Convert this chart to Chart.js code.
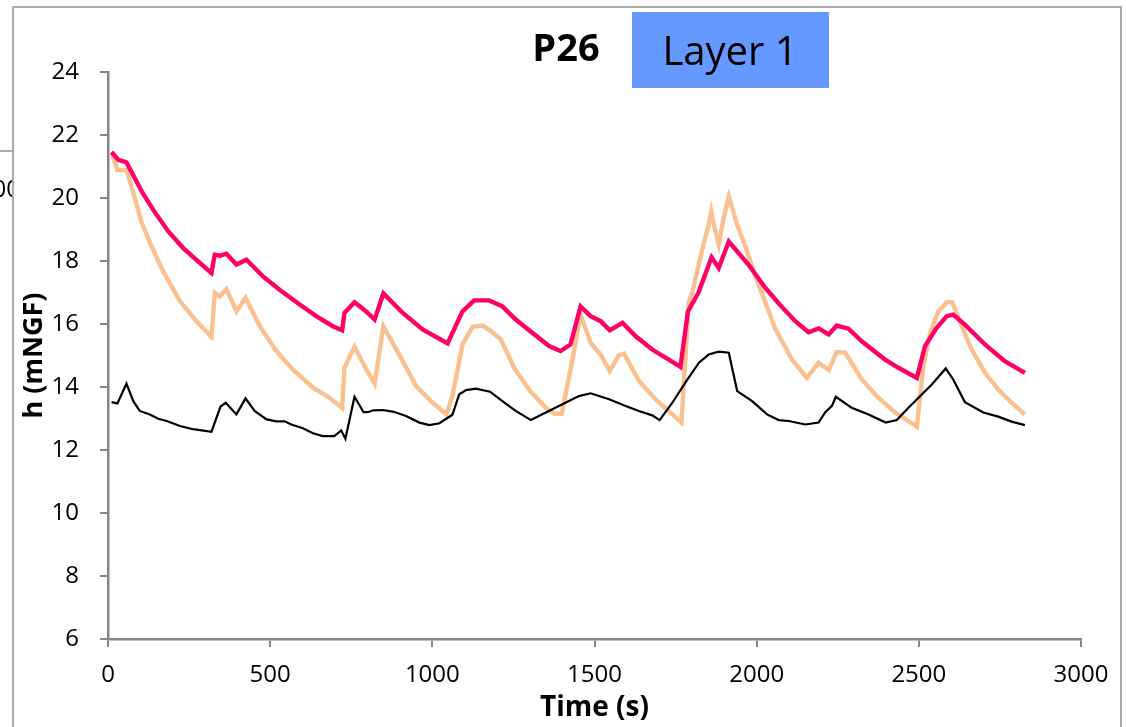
<!DOCTYPE html>
<html>
<head>
<meta charset="utf-8">
<script src="https://cdn.jsdelivr.net/npm/chart.js@4.4.1/dist/chart.umd.min.js"></script>
<style>
  html, body { margin: 0; padding: 0; background: #ffffff; }
  #wrap { position: relative; width: 1126px; height: 727px; }
  canvas { display: block; }
</style>
</head>
<body>
<div id="wrap"><canvas id="c" width="1126" height="727"></canvas></div>
<script>
// ---- data ----
const chartTitle = "P26";
const layerLabel = "Layer 1";
const xTitle = "Time (s)";
const yTitle = "h (mNGF)";
const xTicks = [0, 500, 1000, 1500, 2000, 2500, 3000];
const yTicks = [6, 8, 10, 12, 14, 16, 18, 20, 22, 24];

// magenta series
const tMagenta = [11,32,57,104,139,186,232,283,319,329,345,365,396,427,478,529,591,642,693,722,729,760,796,822,849,909,970,1047,1093,1129,1175,1216,1257,1308,1360,1395,1426,1457,1488,1519,1547,1586,1627,1678,1729,1765,1788,1820,1861,1883,1914,1975,2025,2068,2119,2160,2191,2222,2247,2283,2324,2396,2437,2494,2519,2555,2586,2606,2642,2704,2765,2827];
const hMagenta = [21.46,21.21,21.13,20.21,19.63,18.94,18.41,17.94,17.62,18.2,18.17,18.23,17.89,18.04,17.51,17.09,16.62,16.25,15.93,15.80,16.35,16.69,16.40,16.14,16.97,16.35,15.83,15.38,16.40,16.75,16.75,16.56,16.14,15.72,15.30,15.14,15.35,16.56,16.25,16.09,15.80,16.04,15.61,15.19,14.87,14.64,16.40,16.98,18.12,17.78,18.62,17.88,17.17,16.65,16.09,15.74,15.86,15.67,15.95,15.85,15.45,14.87,14.61,14.29,15.30,15.88,16.25,16.30,15.98,15.35,14.82,14.45];

// light orange series
const tOrange = [11,29,57,78,104,134,170,222,273,319,329,345,365,396,424,468,519,570,632,683,722,729,760,791,822,849,898,950,1001,1043,1062,1093,1124,1155,1181,1211,1252,1298,1350,1375,1399,1432,1457,1488,1519,1547,1575,1591,1637,1688,1740,1768,1791,1801,1832,1852,1860,1868,1883,1898,1914,1940,1965,1996,2016,2058,2109,2155,2191,2222,2247,2273,2324,2375,2427,2494,2514,2535,2560,2586,2603,2632,2663,2704,2745,2786,2827];
const hOrange = [21.42,20.89,20.89,20.16,19.21,18.47,17.67,16.72,16.09,15.59,16.99,16.88,17.11,16.40,16.83,15.93,15.14,14.56,13.98,13.66,13.34,14.61,15.28,14.66,14.11,15.93,15.03,14.03,13.50,13.13,13.71,15.35,15.91,15.95,15.77,15.51,14.61,13.92,13.34,13.16,13.15,14.87,16.30,15.40,15.03,14.50,15.01,15.06,14.19,13.61,13.13,12.87,16.72,16.98,18.36,19.15,19.57,19.15,18.52,19.36,20.05,19.15,18.47,17.51,16.98,15.83,14.87,14.29,14.77,14.54,15.11,15.09,14.24,13.66,13.19,12.74,14.66,15.72,16.40,16.69,16.69,15.93,15.19,14.45,13.92,13.50,13.13];

// black series
const tBlack = [11,29,57,78,98,129,155,181,222,262,319,347,363,396,424,452,489,519,545,565,601,632,662,698,719,732,760,788,801,818,847,878,919,960,991,1022,1062,1083,1104,1134,1178,1216,1257,1304,1350,1401,1452,1488,1545,1596,1637,1678,1701,1740,1780,1822,1852,1883,1914,1940,1986,2032,2068,2099,2150,2191,2211,2232,2244,2293,2345,2398,2432,2468,2499,2540,2583,2606,2642,2699,2745,2786,2827];
const hBlack = [13.52,13.48,14.11,13.55,13.24,13.13,12.99,12.92,12.76,12.66,12.58,13.38,13.50,13.13,13.64,13.24,12.97,12.91,12.91,12.81,12.69,12.53,12.44,12.44,12.62,12.36,13.69,13.20,13.20,13.26,13.27,13.22,13.08,12.87,12.79,12.85,13.12,13.77,13.90,13.95,13.85,13.55,13.24,12.95,13.19,13.45,13.71,13.80,13.61,13.40,13.24,13.10,12.95,13.50,14.14,14.77,15.03,15.12,15.09,13.87,13.55,13.13,12.95,12.92,12.81,12.87,13.19,13.40,13.69,13.34,13.13,12.87,12.95,13.34,13.66,14.08,14.59,14.24,13.52,13.19,13.06,12.90,12.79];

// ---- build ----
function pts(t, h) { return t.map((x, i) => ({ x: x, y: h[i] })); }

const AXIS_GRAY = '#868686';
const FRAME_GRAY = '#ababab';

const decorPlugin = {
  id: 'decor',
  beforeDraw(chart) {
    const ctx = chart.ctx;
    ctx.save();
    ctx.fillStyle = '#ffffff';
    ctx.fillRect(0, 0, chart.width, chart.height);
    // outer frame of the slide / chart object
    ctx.strokeStyle = FRAME_GRAY;
    ctx.lineWidth = 2;
    ctx.beginPath();
    ctx.moveTo(13, 727);
    ctx.lineTo(13, 7);
    ctx.lineTo(1121, 7);
    ctx.lineTo(1121, 727);
    ctx.stroke();
    // fragment of a neighbouring object on the left
    ctx.beginPath();
    ctx.moveTo(0, 151);
    ctx.lineTo(13, 151);
    ctx.stroke();
    ctx.beginPath();
    ctx.rect(0, 170, 12, 40);
    ctx.clip();
    ctx.fillStyle = '#000';
    ctx.font = '24px "Open Sans"';
    ctx.textBaseline = 'middle';
    ctx.textAlign = 'right';
    ctx.fillText('00', 20, 190);
    ctx.restore();
  },
  afterDraw(chart) {
    const ctx = chart.ctx;
    ctx.save();
    // title
    ctx.fillStyle = '#000';
    ctx.font = 'bold 38px "Open Sans"';
    ctx.textAlign = 'center';
    ctx.textBaseline = 'alphabetic';
    ctx.fillText(chartTitle, 566, 61);
    // layer label box
    ctx.fillStyle = '#6699ff';
    ctx.fillRect(632, 12, 197, 76);
    ctx.fillStyle = '#000';
    ctx.font = '40px "Open Sans"';
    ctx.fillText(layerLabel, 730, 65);
    ctx.restore();
  }
};

new Chart(document.getElementById('c'), {
  type: 'line',
  data: {
    datasets: [
      { label: 'black', data: pts(tBlack, hBlack), borderColor: '#000000', borderWidth: 2.2, pointRadius: 0, tension: 0, fill: false },
      { label: 'magenta', data: pts(tMagenta, hMagenta), borderColor: '#ff0066', borderWidth: 4.4, pointRadius: 0, tension: 0, fill: false },
      { label: 'orange', data: pts(tOrange, hOrange), borderColor: '#fac090', borderWidth: 4.4, pointRadius: 0, tension: 0, fill: false }
    ]
  },
  options: {
    responsive: false,
    animation: false,
    events: [],
    layout: { padding: { left: 0, right: 45, top: 72, bottom: 0 } },
    plugins: { legend: { display: false }, tooltip: { enabled: false }, title: { display: false } },
    scales: {
      x: {
        type: 'linear',
        min: 0, max: 3000,
        afterBuildTicks(scale) { scale.ticks = xTicks.map(v => ({ value: v })); },
        afterFit(scale) { scale.height = 88; },
        grid: { display: true, drawOnChartArea: false, drawTicks: true, tickLength: 8, color: AXIS_GRAY, lineWidth: 2 },
        border: { display: true, color: AXIS_GRAY, width: 2.5 },
        ticks: { color: '#000', font: { family: '"Open Sans"', size: 24 }, padding: 14, maxRotation: 0, autoSkip: false, callback: v => String(v) },
        title: { display: true, text: xTitle, color: '#000', font: { family: '"Open Sans"', size: 28, weight: 'bold', lineHeight: 1 }, padding: { top: 0, bottom: 5 } }
      },
      y: {
        type: 'linear',
        min: 6, max: 24,
        afterBuildTicks(scale) { scale.ticks = yTicks.map(v => ({ value: v })); },
        afterFit(scale) { scale.width = 108; },
        grid: { display: true, drawOnChartArea: false, drawTicks: true, tickLength: 8, color: AXIS_GRAY, lineWidth: 2 },
        border: { display: true, color: AXIS_GRAY, width: 2.5 },
        ticks: { color: '#000', font: { family: '"Open Sans"', size: 24 }, padding: 21, autoSkip: false, callback: v => String(v) },
        title: { display: true, text: yTitle, color: '#000', font: { family: '"Open Sans"', size: 27, weight: 'bold', lineHeight: 1 }, padding: { top: 21, bottom: 0 } }
      }
    }
  },
  plugins: [decorPlugin]
});
</script>
</body>
</html>
